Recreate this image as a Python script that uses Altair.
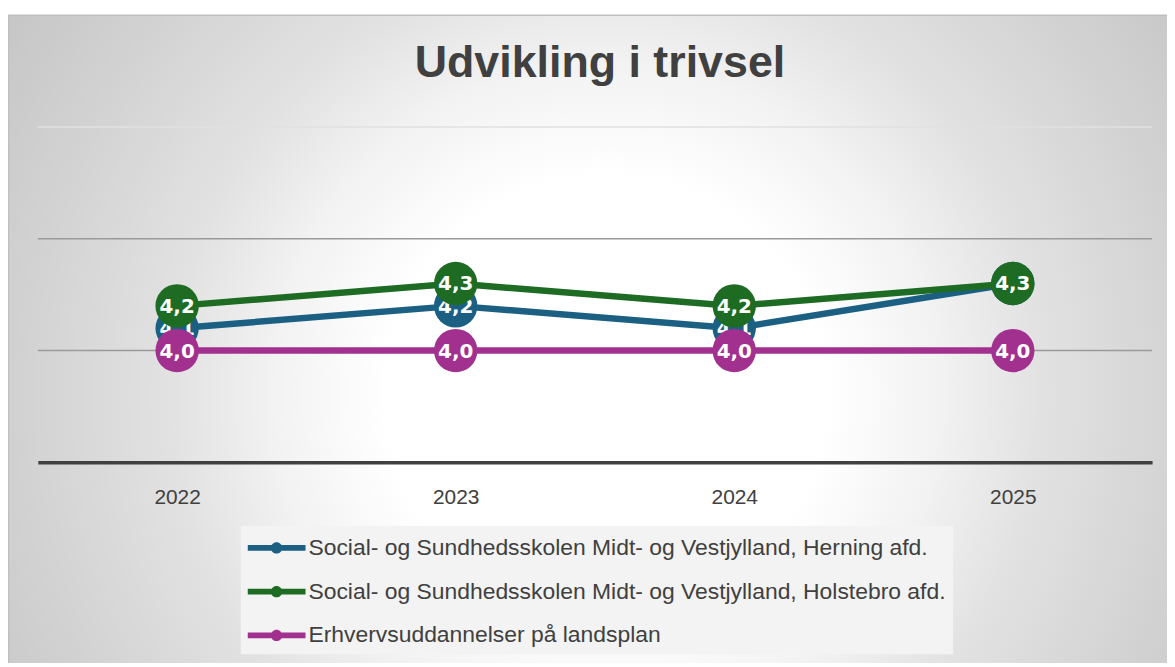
import altair as alt
import pandas as pd

years = ["2022", "2023", "2024", "2025"]
series_names = [
    "Social- og Sundhedsskolen Midt- og Vestjylland, Herning afd.",
    "Social- og Sundhedsskolen Midt- og Vestjylland, Holstebro afd.",
    "Erhvervsuddannelser på landsplan",
]
herning = [4.1, 4.2, 4.1, 4.3]
holstebro = [4.2, 4.3, 4.2, 4.3]
landsplan = [4.0, 4.0, 4.0, 4.0]
series_colors = ["#1b6083", "#1e6b23", "#a2308f"]
grid_values = [4.0, 4.5, 5.0]
title_text = "Udvikling i trivsel"

rows = []
for name, vals in zip(series_names, [herning, holstebro, landsplan]):
    for y, v in zip(years, vals):
        rows.append({"year": y, "value": v, "series": name})
df = pd.DataFrame(rows)
grid_df = pd.DataFrame({"value": grid_values})

W, H = 1120, 337

color_scale = alt.Scale(domain=series_names, range=series_colors)
legend_path = ("M-1,-0.19 L2.87,-0.19 L2.87,0.19 L-1,0.19 Z "
               "M0.55,0 A0.38,0.38 0 1,1 1.31,0 A0.38,0.38 0 1,1 0.55,0 Z")
legend = alt.Legend(
    title=None, orient="none", legendX=204, legendY=401,
    symbolType=legend_path, symbolSize=900, symbolStrokeWidth=0,
    symbolOpacity=1, labelFontSize=23, labelFont="Liberation Sans",
    labelColor="#404040", labelOffset=31, labelLimit=900,
    fillColor="#f3f3f3", padding=7, rowPadding=17,
)

y_scale = alt.Scale(domain=[3.5, 5.0], nice=False, zero=False)
x_enc = alt.X("year:O", sort=years,
              scale=alt.Scale(type="point", padding=0.5),
              axis=alt.Axis(title=None, labelAngle=0, ticks=False,
                            domainColor="#404040", domainWidth=3.5,
                            labelFontSize=21, labelFont="Liberation Sans",
                            labelColor="#404040", labelPadding=24, grid=False,
                            zindex=1))
y_enc = alt.Y("value:Q", scale=y_scale, axis=None)

one = pd.DataFrame({"a": [0]})
bg = alt.Chart(one).mark_rect(
    fill={"gradient": "radial",
          "stops": [{"offset": 0, "color": "#ffffff"},
                    {"offset": 0.31, "color": "#ffffff"},
                    {"offset": 0.47, "color": "#f2f2f2"},
                    {"offset": 0.61, "color": "#e2e2e2"},
                    {"offset": 0.825, "color": "#d2d2d2"},
                    {"offset": 1.0, "color": "#c6c6c6"}],
          "x1": 0.505, "y1": 0.535, "r1": 0,
          "x2": 0.505, "y2": 0.535, "r2": 0.6},
    stroke="#bfbfbf", strokeWidth=1.5,
).encode(x=alt.value(-29.5), x2=alt.value(1160), y=alt.value(-112.5), y2=alt.value(570))

title = alt.Chart(one).mark_text(
    text=title_text, fontSize=45, font="Liberation Sans", fontWeight="bold",
    color="#404040", align="center", baseline="alphabetic",
).encode(x=alt.value(W / 2 + 5), y=alt.value(-50))

grid = alt.Chart(grid_df).mark_rule(strokeWidth=1.5).encode(
    y=alt.Y("value:Q", scale=y_scale, axis=None),
    x=alt.value(0), x2=alt.value(W),
    color=alt.condition(alt.datum.value >= 5, alt.value("#e0e0e0"), alt.value("#9a9a9a")),
)

base = alt.Chart(df).encode(x=x_enc, y=y_enc)
layers = [bg, title, grid]
for name in series_names:
    sub = base.transform_filter(alt.datum.series == name)
    line = sub.mark_line(strokeWidth=6.5, strokeCap="round").encode(
        color=alt.Color("series:N", scale=color_scale, legend=legend))
    pts = sub.mark_circle(size=1900, opacity=1).encode(
        color=alt.Color("series:N", scale=color_scale, legend=legend))
    txt = sub.transform_calculate(
        lbl="replace(format(datum.value, '.1f'), '.', ',')"
    ).mark_text(color="white", fontSize=20, fontWeight="bold",
                font="DejaVu Sans", baseline="middle", dy=1).encode(text="lbl:N")
    layers += [line, pts, txt]

chart = alt.layer(*layers).properties(
    width=W, height=H,
    autosize=alt.AutoSizeParams(type="none"),
    padding={"left": 30, "top": 118, "right": 15, "bottom": 200},
).configure_view(stroke=None).configure(background="white")

chart.save("out.html", embed_options={"renderer": "svg", "actions": False})
